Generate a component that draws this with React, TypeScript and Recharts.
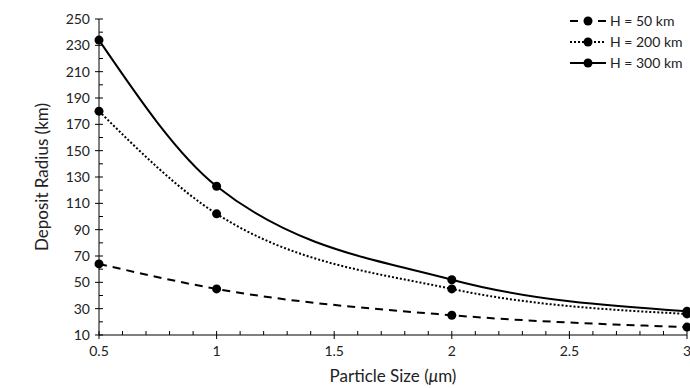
import React from 'react';
import { LineChart, Line, XAxis, YAxis } from 'recharts';

const sizes = [0.5, 1, 2, 3];
const h50 = [64, 45, 25, 16];
const h200 = [180, 102, 45, 26];
const h300 = [234, 123, 52, 28];

const xMajor = [0.5, 1, 1.5, 2, 2.5, 3];
const xTicks = [0.5, 0.6, 0.7, 0.8, 0.9, 1, 1.1, 1.2, 1.3, 1.4, 1.5, 1.6, 1.7, 1.8, 1.9, 2, 2.1, 2.2, 2.3, 2.4, 2.5, 2.6, 2.7, 2.8, 2.9, 3];
const yTicks = [10, 20, 30, 40, 50, 60, 70, 80, 90, 100, 110, 120, 130, 140, 150, 160, 170, 180, 190, 200, 210, 220, 230, 240, 250];

const series = [
  { key: 'h50', name: 'H = 50 km', dash: '8 6' },
  { key: 'h200', name: 'H = 200 km', dash: '2 2' },
  { key: 'h300', name: 'H = 300 km', dash: undefined },
];

const data = sizes.map((s, i) => ({ size: s, h50: h50[i], h200: h200[i], h300: h300[i] }));

const FONT = 'Lato, "Noto Sans", sans-serif';
const INK = '#000';

const isMajorX = (v: number) => xMajor.some((m) => Math.abs(m - v) < 1e-6);

const XTick = (props: any) => {
  const { x, y, payload } = props;
  const major = isMajorX(payload.value);
  return (
    <g>
      {major ? (
        <line x1={x} x2={x} y1={y - 4} y2={y + 4} stroke={INK} strokeWidth={1} />
      ) : (
        <line x1={x} x2={x} y1={y - 4} y2={y} stroke={INK} strokeWidth={1} />
      )}
      {major && (
        <text x={x} y={y + 21} textAnchor="middle" fontSize={14} fontFamily={FONT} fill="#222">
          {payload.value}
        </text>
      )}
    </g>
  );
};

const YTick = (props: any) => {
  const { x, y, payload } = props;
  const major = payload.value % 20 === 10;
  return (
    <g>
      {major ? (
        <line x1={x - 4} x2={x + 4} y1={y} y2={y} stroke={INK} strokeWidth={1} />
      ) : (
        <line x1={x} x2={x + 4} y1={y} y2={y} stroke={INK} strokeWidth={1} />
      )}
      {major && (
        <text x={x - 9} y={y + 5} textAnchor="end" fontSize={14} fontFamily={FONT} fill="#222">
          {payload.value}
        </text>
      )}
    </g>
  );
};

const ChartLegend = () => (
  <div style={{ position: 'absolute', left: 569, top: 10, fontFamily: FONT, fontSize: 14, color: '#222' }}>
    {series.map((s) => (
      <div key={s.key} style={{ display: 'flex', alignItems: 'center', height: 21 }}>
        <svg width={38} height={12}>
          <line x1={1} x2={37} y1={6} y2={6} stroke={INK} strokeWidth={2} strokeDasharray={s.dash} />
          <circle cx={19} cy={6} r={4.5} fill={INK} />
        </svg>
        <span style={{ marginLeft: 3 }}>{s.name}</span>
      </div>
    ))}
  </div>
);

const App = () => {
  return (
    <div style={{ position: 'absolute', left: 0, top: 0, width: 690, height: 388, background: '#fff' }}>
      <LineChart width={690} height={388} data={data} margin={{ top: 19, right: 3, bottom: 0, left: 0 }}>
        <XAxis
          dataKey="size"
          type="number"
          domain={[0.5, 3]}
          ticks={xTicks}
          interval={0}
          tickSize={0}
          tickMargin={0}
          tickLine={false}
          tick={<XTick />}
          stroke={INK}
          height={53}
          label={{
            content: (p: any) => {
              const vb = p.viewBox;
              return (
                <text x={vb.x + vb.width / 2} y={vb.y + 47} textAnchor="middle" fontSize={17} fontFamily={FONT} fill="#222">
                  Particle Size (<tspan fontStyle="italic">μ</tspan>m)
                </text>
              );
            },
          }}
        />
        <YAxis
          type="number"
          domain={[10, 250]}
          ticks={yTicks}
          interval={0}
          tickSize={0}
          tickMargin={0}
          tickLine={false}
          tick={<YTick />}
          stroke={INK}
          width={99}
          label={{
            content: (p: any) => {
              const vb = p.viewBox;
              const cy = vb.y + vb.height / 2;
              return (
                <text x={48} y={cy} transform={`rotate(-90 48 ${cy})`} textAnchor="middle" fontSize={17} fontFamily={FONT} fill="#222">
                  Deposit Radius (km)
                </text>
              );
            },
          }}
        />
        {series.map((s) => (
          <Line
            key={s.key}
            type="monotone"
            dataKey={s.key}
            name={s.name}
            stroke={INK}
            strokeWidth={2}
            strokeDasharray={s.dash}
            dot={{ r: 4.5, fill: INK, stroke: INK, strokeWidth: 0 }}
            activeDot={false}
            isAnimationActive={false}
          />
        ))}
      </LineChart>
      <ChartLegend />
    </div>
  );
};

export default App;
